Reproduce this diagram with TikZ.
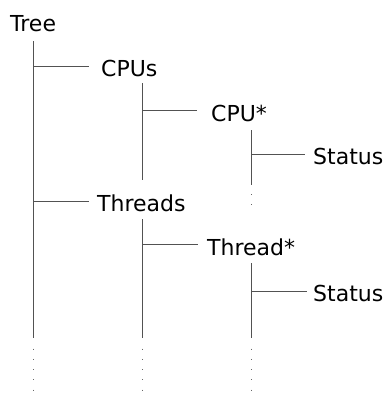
\documentclass[tikz,border=0pt]{standalone}
\usepackage{fontspec}
\setmainfont{DejaVu Sans}
\begin{document}
\begin{tikzpicture}[x=1pt,y=-1pt,
  lbl/.style={anchor=base west, inner sep=0pt, font=\fontsize{22}{26}\selectfont},
  edge/.style={draw=black!68, line width=1pt},
  dotline/.style={draw=black!60, line width=1pt, dash pattern=on 1pt off 9.3pt}]
\useasboundingbox (0,0) rectangle (387,394);
% labels
\node[lbl] (tree)    at (10,31)  {Tree};
\node[lbl] (cpus)    at (101,76) {CPUs};
\node[lbl] (cpu)     at (211,121) {CPU*};
\node[lbl] (status1) at (313,164) {Status};
\node[lbl] (threads) at (97,211) {Threads};
\node[lbl] (thread)  at (207,255) {Thread*};
\node[lbl] (status2) at (313,301) {Status};
% root spine
\coordinate (r0) at (33,41);
\coordinate (r1) at (33,338);
\coordinate (r1d) at (33,348.5);
\coordinate (r2) at (33,394);
\draw[edge] (r0) -- (r1);
\draw[dotline] (r1d) -- (r2);
\coordinate (b1) at (89,66);
\coordinate (b2) at (89,201);
\draw[edge] (r0 |- b1) -- (b1);
\draw[edge] (r0 |- b2) -- (b2);
% CPUs spine
\coordinate (c0) at (142,83);
\coordinate (c1) at (142,180);
\draw[edge] (c0) -- (c1);
\coordinate (b3) at (197,110);
\draw[edge] (c0 |- b3) -- (b3);
% CPU* spine
\coordinate (p0) at (251,130);
\coordinate (p1) at (251,185);
\coordinate (p1d) at (251,194);
\coordinate (p2) at (251,207);
\draw[edge] (p0) -- (p1);
\draw[dotline] (p1d) -- (p2);
\coordinate (b4) at (305,154);
\draw[edge] (p0 |- b4) -- (b4);
% Threads spine
\coordinate (t0) at (142,219);
\coordinate (t1) at (142,338);
\coordinate (t1d) at (142,348.5);
\coordinate (t2) at (142,394);
\draw[edge] (t0) -- (t1);
\draw[dotline] (t1d) -- (t2);
\coordinate (b5) at (198,244);
\draw[edge] (t0 |- b5) -- (b5);
% Thread* spine
\coordinate (h0) at (251,263);
\coordinate (h1) at (251,338);
\coordinate (h1d) at (251,348.5);
\coordinate (h2) at (251,394);
\draw[edge] (h0) -- (h1);
\draw[dotline] (h1d) -- (h2);
\coordinate (b6) at (307,291);
\draw[edge] (h0 |- b6) -- (b6);
\end{tikzpicture}
\end{document}
